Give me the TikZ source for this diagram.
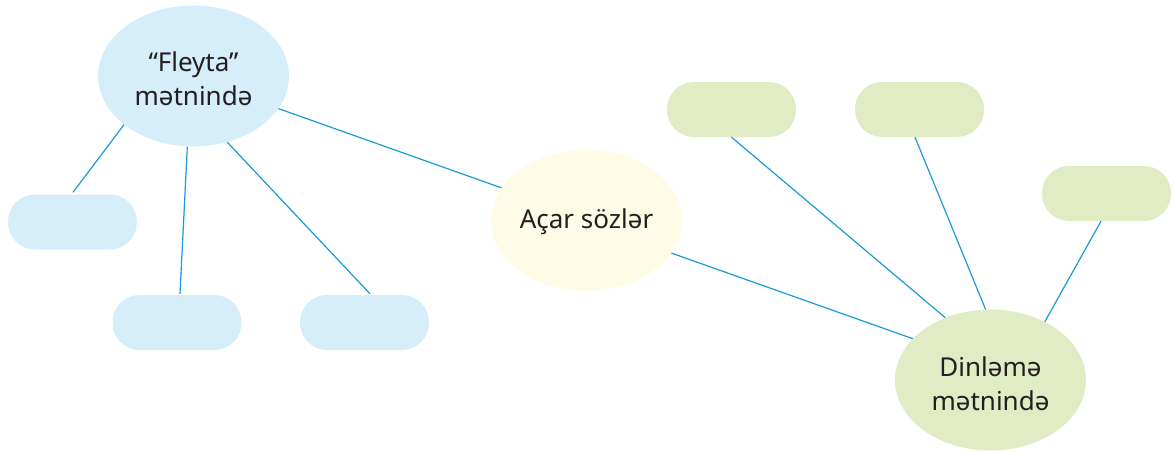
\documentclass[tikz,border=0pt]{standalone}
\usepackage{fontspec}
\setmainfont{Noto Sans}
\usetikzlibrary{shapes.geometric}
\definecolor{lineblue}{HTML}{1A9AD6}
\definecolor{fillblue}{HTML}{D6EEF9}
\definecolor{fillcream}{HTML}{FEFBE6}
\definecolor{fillgreen}{HTML}{E1EBC4}
\definecolor{txt}{HTML}{231F20}
\tikzset{
  bubble/.style={ellipse, minimum width=191pt, minimum height=141pt, inner sep=0pt},
  label text/.style={inner sep=0pt, align=center, text=txt, font=\fontsize{26}{34}\selectfont},
  pill/.style={rounded corners=27pt, minimum width=129pt, minimum height=55pt, inner sep=0pt},
  link/.style={draw=lineblue, line width=1.2pt}
}
\begin{document}
\begin{tikzpicture}[x=1pt,y=-1pt]
\useasboundingbox (0,0) rectangle (1174,452);
\node[bubble, fill=fillblue] (f) at (193.5,76) {};
\node[label text] (ft) at (193.5,78.5) {“Fleyta”\\mətnində};
\node[bubble, fill=fillcream] (a) at (586.5,220.5) {};
\node[label text] (at) at (586.5,221.5) {Açar sözlər};
\node[bubble, fill=fillgreen] (d) at (990.5,380) {};
\node[label text] (dt) at (990.5,383.5) {Dinləmə\\mətnində};
\node[pill, fill=fillblue] (b1) at (72.5,222) {};
\node[pill, fill=fillblue] (b2) at (177,322.5) {};
\node[pill, fill=fillblue] (b3) at (364.5,322.5) {};
\node[pill, fill=fillgreen] (g1) at (731.5,109.5) {};
\node[pill, fill=fillgreen] (g2) at (919.5,109.5) {};
\node[pill, fill=fillgreen] (g3) at (1106.5,193.5) {};
\draw[link] (f.215) -- ([xshift=0.5pt,yshift=2pt]b1.north);
\draw[link] (f.265) -- ([xshift=3pt,yshift=1pt]b2.north);
\draw[link] (f.297) -- ([xshift=5.5pt,yshift=1pt]b3.north);
\draw[link] (f.339) -- (a.159);
\draw[link] (a.339) -- (d.152);
\draw[link] (g1.south) -- (d.126);
\draw[link] ([xshift=-4.5pt]g2.south) -- (d.94.5);
\draw[link] ([xshift=-5.5pt]g3.south) -- (d.47.8);
\end{tikzpicture}
\end{document}
